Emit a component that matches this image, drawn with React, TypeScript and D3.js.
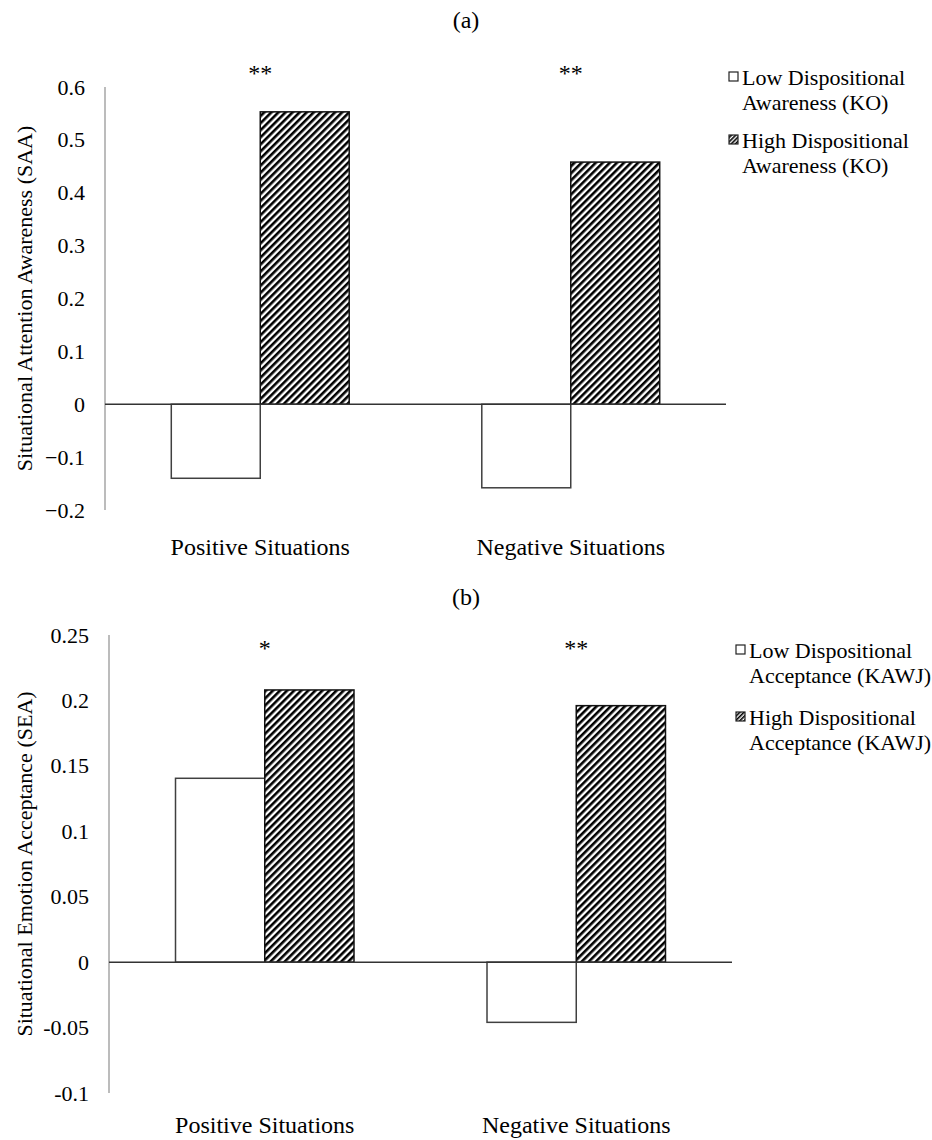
import React from "react";
import * as d3 from "d3";

const categories = ["Positive Situations", "Negative Situations"];
const seriesA = ["Low Dispositional Awareness (KO)", "High Dispositional Awareness (KO)"];
const lowA = [-0.14, -0.158];
const highA = [0.553, 0.458];
const starsA = ["**", "**"];
const ticksA = [-0.2, -0.1, 0, 0.1, 0.2, 0.3, 0.4, 0.5, 0.6];

const seriesB = ["Low Dispositional Acceptance (KAWJ)", "High Dispositional Acceptance (KAWJ)"];
const lowB = [0.1405, -0.046];
const highB = [0.208, 0.196];
const starsB = ["*", "**"];
const ticksB = [-0.1, -0.05, 0, 0.05, 0.1, 0.15, 0.2, 0.25];

const FONT = "'Liberation Serif', 'Times New Roman', serif";

type PanelProps = {
  title: string;
  titleY: number;
  yTitle: string;
  yTitleX: number;
  low: number[];
  high: number[];
  stars: string[];
  ticks: number[];
  domain: [number, number];
  yRange: [number, number];
  xRange: [number, number];
  catLabelY: number;
  starY: number;
  legendLabels: string[];
  legendX: number;
  legendYs: number[];
  fmt: (v: number) => string;
};

function Panel(p: PanelProps) {
  const y = d3.scaleLinear().domain(p.domain).range(p.yRange);
  const x0 = d3
    .scaleBand<string>()
    .domain(categories)
    .range(p.xRange)
    .paddingInner(0.427)
    .paddingOuter(0.2135);
  const bw = x0.bandwidth() / 2;
  const axisX = p.xRange[0];
  const [top, bottom] = [y(p.domain[1]), y(p.domain[0])];
  const yT = (top + bottom) / 2;
  return (
    <g>
      <text x={466} y={p.titleY} textAnchor="middle" dominantBaseline="central" fontSize={24} fontFamily={FONT}>
        {p.title}
      </text>
      <line x1={axisX} x2={axisX} y1={top} y2={bottom} stroke="#a6a6a6" strokeWidth={1.5} />
      {p.ticks.map((t) => (
        <text key={t} x={axisX - 20} y={y(t)} textAnchor="end" dominantBaseline="central" fontSize={22} fontFamily={FONT}>
          {p.fmt(t)}
        </text>
      ))}
      <text
        transform={`translate(${p.yTitleX},${yT}) rotate(-90)`}
        textAnchor="middle"
        dominantBaseline="central"
        fontSize={22}
        fontFamily={FONT}
      >
        {p.yTitle}
      </text>
      {categories.map((c, i) => {
        const xs = x0(c)!;
        const lv = p.low[i];
        const hv = p.high[i];
        return (
          <g key={c}>
            <rect
              x={xs}
              y={Math.min(y(lv), y(0))}
              width={bw}
              height={Math.abs(y(lv) - y(0))}
              fill="#fff"
              stroke="#404040"
              strokeWidth={1.5}
            />
            <rect
              x={xs + bw}
              y={Math.min(y(hv), y(0))}
              width={bw}
              height={Math.abs(y(hv) - y(0))}
              fill="url(#hatch)"
              stroke="#111"
              strokeWidth={1.5}
            />
            <text x={xs + bw} y={p.starY} textAnchor="middle" dominantBaseline="central" fontSize={24} fontFamily={FONT}>
              {p.stars[i]}
            </text>
            <text x={xs + bw} y={p.catLabelY} textAnchor="middle" dominantBaseline="central" fontSize={24} fontFamily={FONT}>
              {c}
            </text>
          </g>
        );
      })}
      <line x1={p.xRange[0]} x2={p.xRange[1]} y1={y(0)} y2={y(0)} stroke="#333" strokeWidth={1.5} />
      {p.legendLabels.map((lab, i) => {
        const words = lab.split(" ");
        const line1 = words.slice(0, 2).join(" ");
        const line2 = words.slice(2).join(" ");
        const ly = p.legendYs[i];
        return (
          <g key={lab}>
            <rect
              x={p.legendX - 13}
              y={ly - 5}
              width={9}
              height={9}
              fill={i === 0 ? "#fff" : "url(#hatchSmall)"}
              stroke="#222"
              strokeWidth={1.2}
            />
            <text x={p.legendX} y={ly} dominantBaseline="central" fontSize={22} fontFamily={FONT}>
              {line1}
            </text>
            <text x={p.legendX} y={ly + 25} dominantBaseline="central" fontSize={22} fontFamily={FONT}>
              {line2}
            </text>
          </g>
        );
      })}
    </g>
  );
}

export default function App() {
  return (
    <svg
      width={932}
      height={1140}
      style={{ position: "absolute", left: 0, top: 0, background: "#fff" }}
    >
      <defs>
        <pattern id="hatch" width={5} height={5} patternUnits="userSpaceOnUse" patternTransform="rotate(45)">
          <rect width={5} height={5} fill="#fff" />
          <rect width={2.6} height={5} fill="#000" />
        </pattern>
        <pattern id="hatchSmall" width={3} height={3} patternUnits="userSpaceOnUse" patternTransform="rotate(45)">
          <rect width={3} height={3} fill="#fff" />
          <rect width={1.6} height={3} fill="#000" />
        </pattern>
      </defs>
      <rect width={932} height={1140} fill="#fff" />
      <Panel
        title="(a)"
        titleY={20}
        yTitle="Situational Attention Awareness (SAA)"
        yTitleX={24}
        low={lowA}
        high={highA}
        stars={starsA}
        ticks={ticksA}
        domain={[-0.2, 0.6]}
        yRange={[510, 87]}
        xRange={[105, 726]}
        catLabelY={547}
        starY={73}
        legendLabels={seriesA}
        legendX={742}
        legendYs={[77, 140]}
        fmt={(v) => (v === 0 ? "0" : d3.format(".1f")(v))}
      />
      <Panel
        title="(b)"
        titleY={597}
        yTitle="Situational Emotion Acceptance (SEA)"
        yTitleX={24}
        low={lowB}
        high={highB}
        stars={starsB}
        ticks={ticksB}
        domain={[-0.1, 0.25]}
        yRange={[1093, 635]}
        xRange={[109, 732]}
        catLabelY={1125}
        starY={648}
        legendLabels={seriesB}
        legendX={749}
        legendYs={[650, 717]}
        fmt={(v) => (v === 0 ? "0" : String(+v.toFixed(2)))}
      />
    </svg>
  );
}
